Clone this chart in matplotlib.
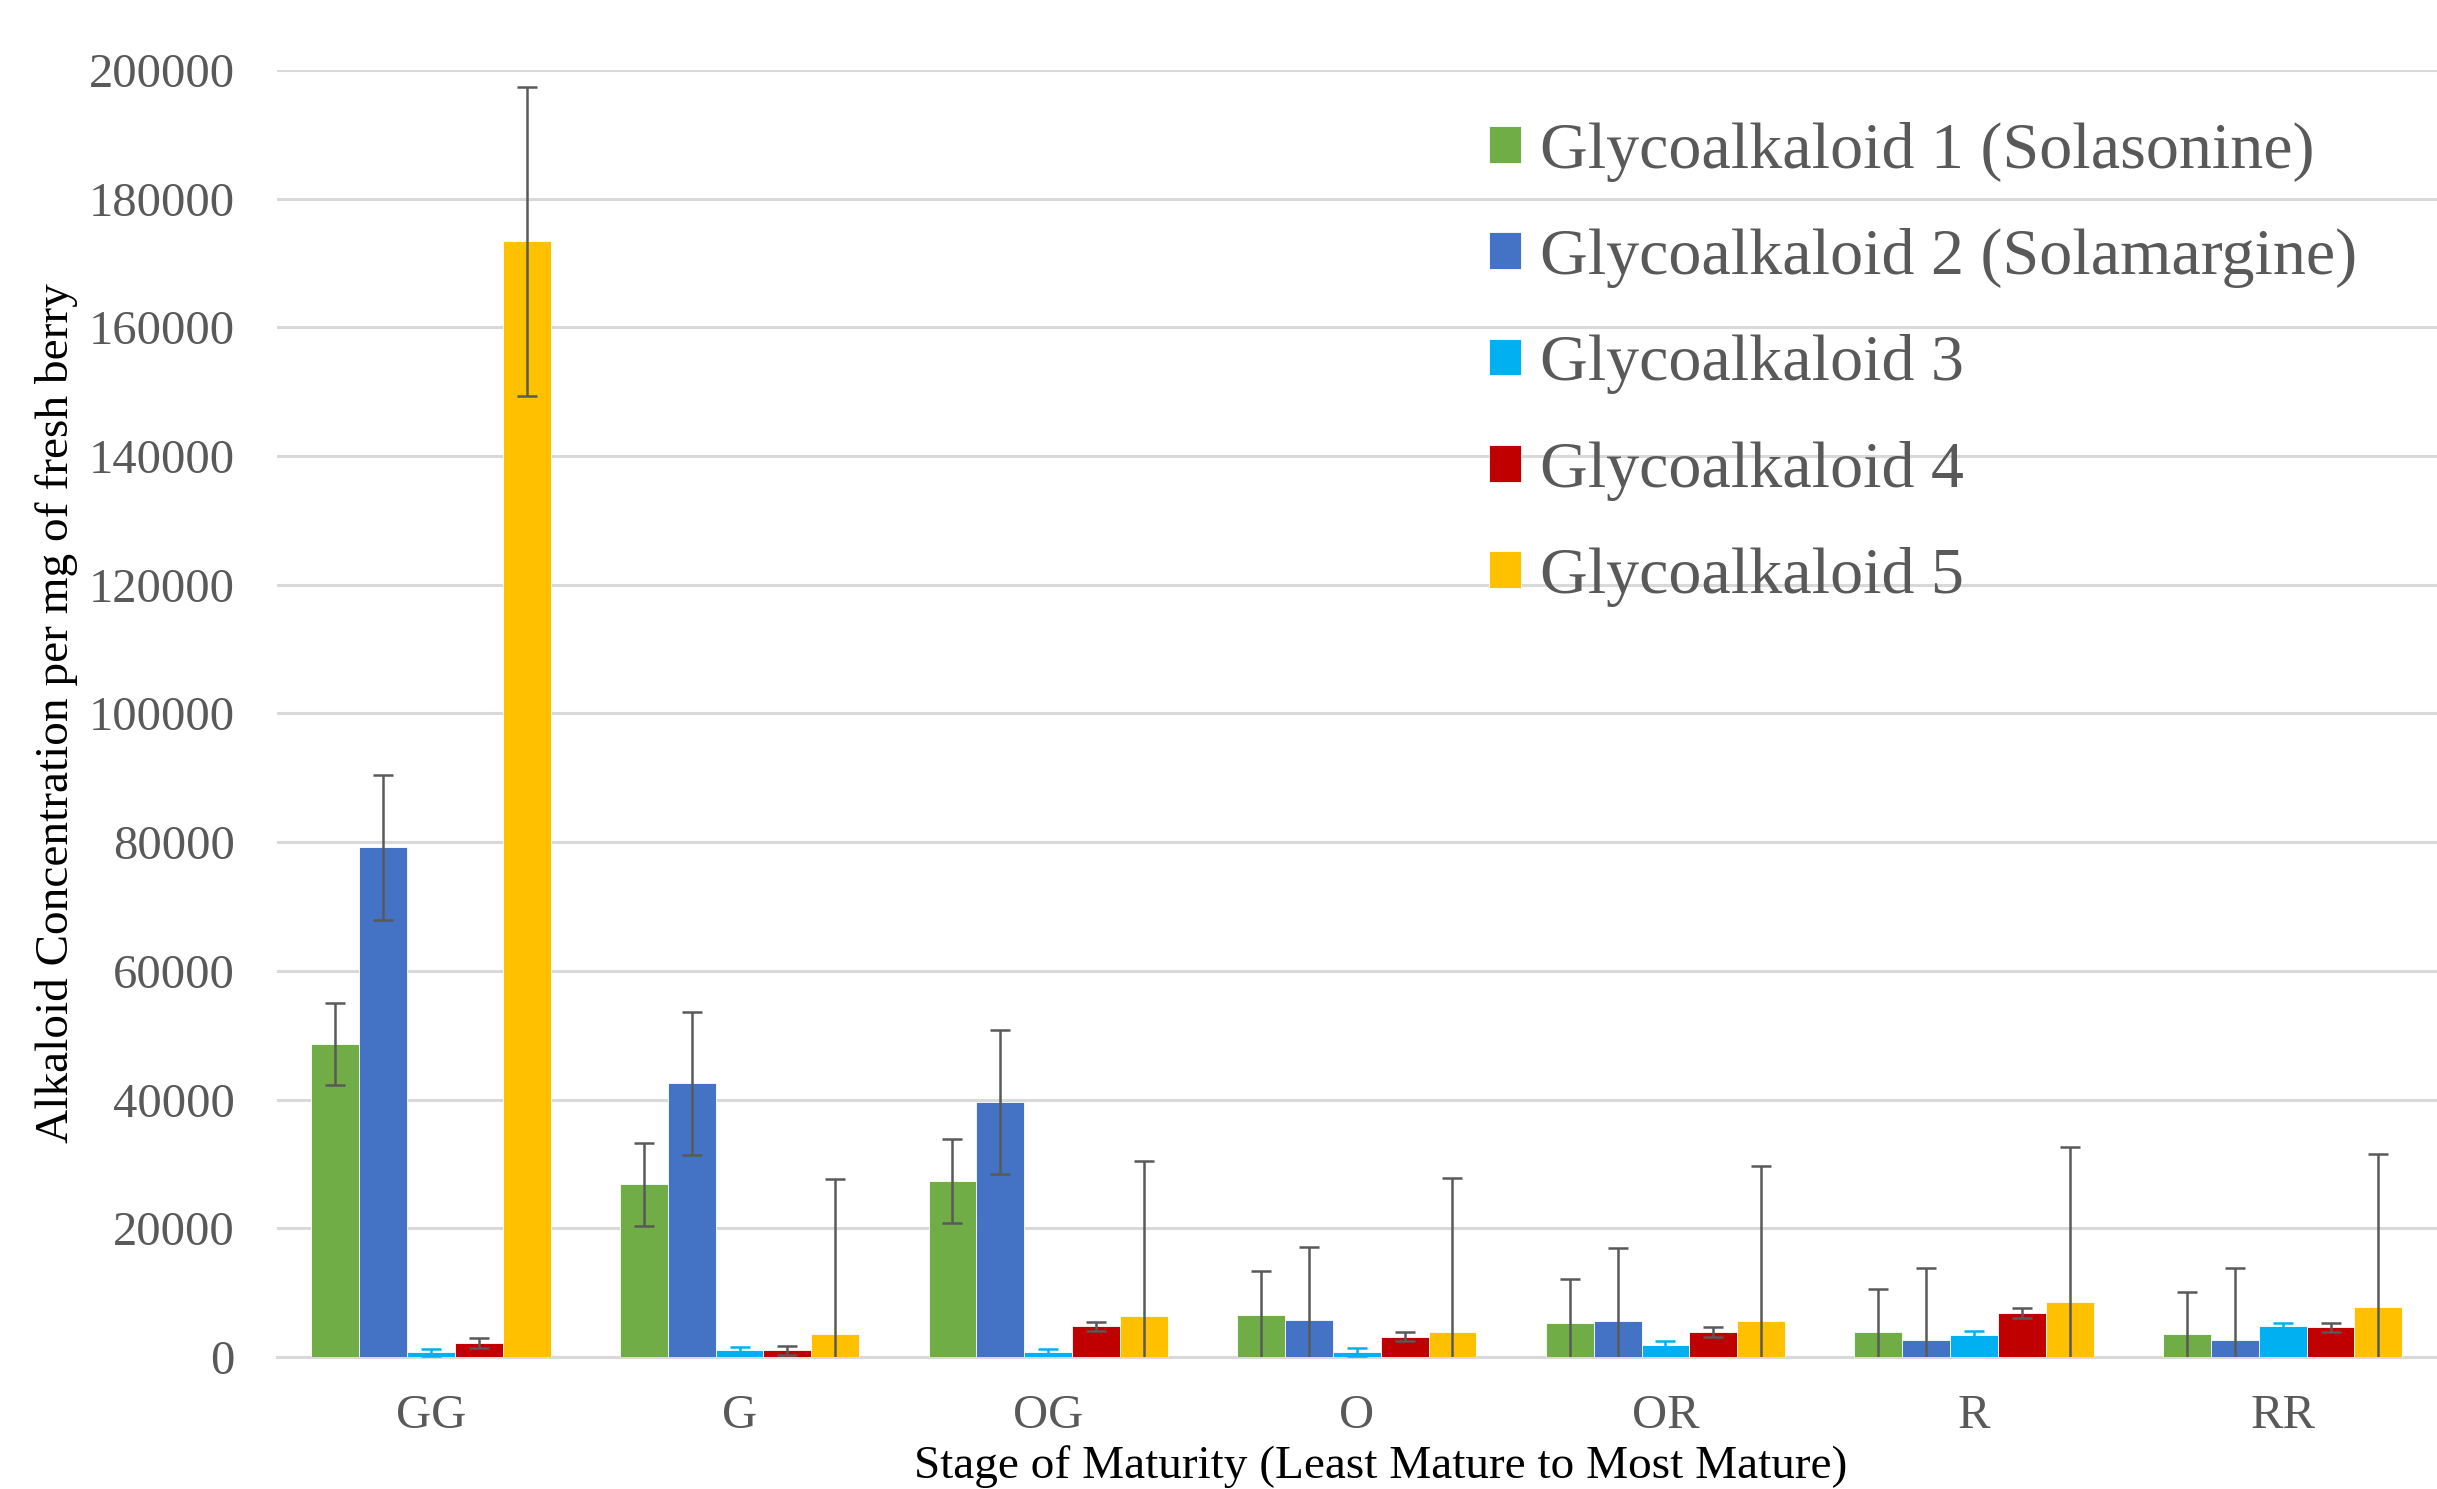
"""
Glycoalkaloid concentration by berry maturity stage (grouped bars with
error bars), redrawn from the Excel-style chart.
"""
import matplotlib
matplotlib.use("Agg")
import matplotlib.pyplot as plt
import numpy as np


stages = ["GG", "G", "OG", "O", "OR", "R", "RR"]
series_names = [
    "Glycoalkaloid 1 (Solasonine)",
    "Glycoalkaloid 2 (Solamargine)",
    "Glycoalkaloid 3",
    "Glycoalkaloid 4",
    "Glycoalkaloid 5",
]
colors = ["#70AD47", "#4472C4", "#00B0F0", "#C00000", "#FFC000"]

# mean concentrations per stage, one list per glycoalkaloid
ga1 = [48600, 26800, 27300, 6500, 5300, 3900, 3600]
ga2 = [79200, 42500, 39600, 5800, 5600, 2600, 2600]
ga3 = [700, 1000, 800, 800, 1900, 3400, 4800]
ga4 = [2200, 1000, 4800, 3100, 3900, 6800, 4600]
ga5 = [173400, 3600, 6300, 3900, 5600, 8500, 7700]

# error bar half-lengths
ga1_err = [6400, 6500, 6500, 6800, 6800, 6700, 6500]
ga2_err = [11300, 11100, 11200, 11300, 11300, 11200, 11200]
ga3_err = [500, 500, 500, 600, 600, 600, 500]
ga4_err = [800, 700, 700, 700, 800, 800, 700]
ga5_err = [24000, 24000, 24100, 23900, 24100, 24100, 23900]

values = [ga1, ga2, ga3, ga4, ga5]
errors = [ga1_err, ga2_err, ga3_err, ga4_err, ga5_err]

FONT = "Liberation Serif"
GREY = "#595959"
GRID = "#D9D9D9"

fig = plt.figure(figsize=(24.37, 14.89), dpi=100)
ax = fig.add_axes([0.1135, 0.0887, 0.8865, 0.8643])

x = np.arange(len(stages))
width = 0.155
for i, (vals, errs) in enumerate(zip(values, errors)):
    ecol = colors[i] if i == 2 else GREY
    ax.bar(x + (i - 2) * width, vals, width, color=colors[i],
           edgecolor="white", linewidth=0.6, label=series_names[i],
           yerr=errs, zorder=3,
           error_kw=dict(ecolor=ecol, elinewidth=1.8, capsize=7,
                         capthick=1.8, zorder=4))

ax.set_xlim(-0.5, len(stages) - 0.5)
ax.set_ylim(0, 200000)
ax.set_yticks(np.arange(0, 200001, 20000))
ax.set_yticklabels([f"{v}" for v in range(0, 200001, 20000)])
ax.set_xticks(x)
ax.set_xticklabels(stages)

ax.grid(axis="y", color=GRID, linewidth=2.2, zorder=0)
ax.set_axisbelow(True)
for side in ["top", "right", "left"]:
    ax.spines[side].set_visible(False)
ax.spines["bottom"].set_color(GRID)
ax.spines["bottom"].set_linewidth(2.2)
ax.tick_params(axis="both", length=0, labelcolor=GREY, labelsize=35)
ax.tick_params(axis="y", pad=30)
ax.tick_params(axis="x", pad=27)
for lab in ax.get_xticklabels() + ax.get_yticklabels():
    lab.set_fontfamily(FONT)

ax.set_ylabel("Alkaloid Concentration per mg of fresh berry",
              fontsize=34, family=FONT, color="black", labelpad=8)
ax.set_xlabel("Stage of Maturity (Least Mature to Most Mature)",
              fontsize=34, family=FONT, color="black", labelpad=5)
ax.xaxis.label.set_x(0.511)

leg = ax.legend(loc="upper left", bbox_to_anchor=(0.611, 0.918),
                bbox_transform=fig.transFigure, frameon=False,
                prop=dict(family=FONT, size=47.5), labelcolor=GREY,
                handlelength=0.48, handleheight=0.48, handletextpad=0.3,
                labelspacing=0.7, borderpad=0, borderaxespad=0)

fig.savefig("out.png", dpi=100)
plt.close(fig)
